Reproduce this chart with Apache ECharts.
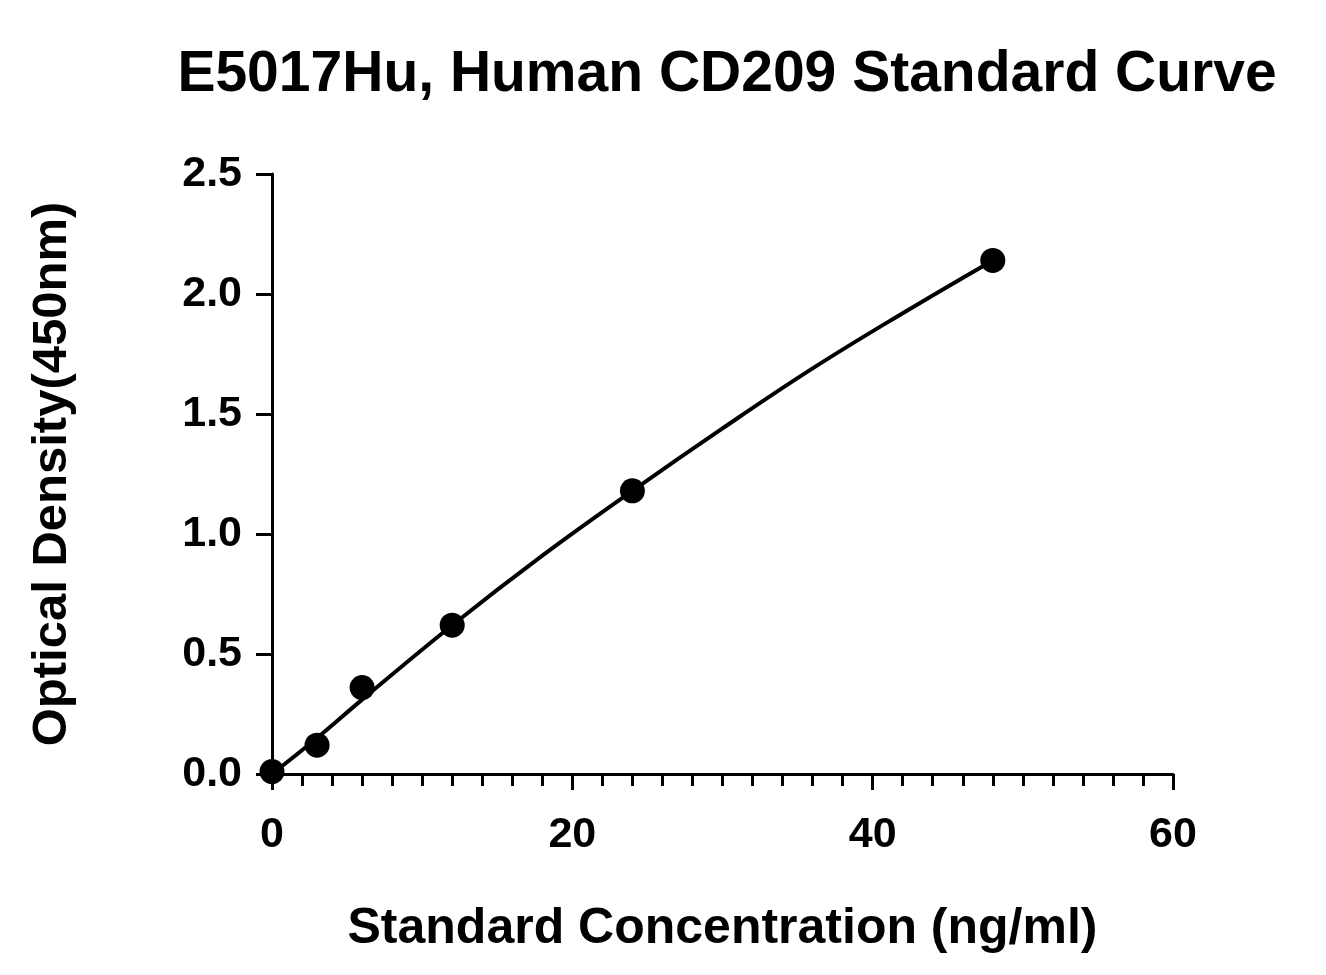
<!DOCTYPE html>
<html><head><meta charset="utf-8">
<script src="https://cdn.jsdelivr.net/npm/echarts@6/dist/echarts.min.js"></script>
<style>html,body{margin:0;padding:0;background:#fff}#c{width:1326px;height:975px}</style>
</head><body><div id="c"></div>
<script>
const titleText = 'E5017Hu, Human CD209 Standard Curve';
const xName = 'Standard Concentration (ng/ml)';
const yName = 'Optical Density(450nm)';
const concentrations = [0, 3, 6, 12, 24, 48];
const odValues = [0.01, 0.12, 0.36, 0.62, 1.18, 2.14];
const curveX = [0, 3, 6, 12, 18, 24, 30, 36, 42, 48];
const curveY = [0, 0.15, 0.31, 0.62, 0.91, 1.18, 1.44, 1.69, 1.92, 2.14];

const font = 'Arial, "Liberation Sans", sans-serif';
const chart = echarts.init(document.getElementById('c'));
chart.setOption({
  animation: false,
  title: { text: titleText, left: 722, top: 42, textAlign: 'center',
    textStyle: { fontSize: 57, fontWeight: 'bold', color: '#000', fontFamily: font } },
  grid: { left: 272, right: 153, top: 174, bottom: 201 },
  xAxis: {
    type: 'value', min: 0, max: 60, interval: 20,
    name: xName, nameLocation: 'middle', nameGap: 130,
    nameTextStyle: { fontSize: 50, fontWeight: 'bold', color: '#000', fontFamily: font },
    axisLine: { onZero: false, lineStyle: { color: '#000', width: 3 } },
    axisTick: { length: 16, lineStyle: { color: '#000', width: 3 } },
    minorTick: { show: true, splitNumber: 10, length: 12, lineStyle: { color: '#000', width: 3 } },
    axisLabel: { fontSize: 43, fontWeight: 'bold', color: '#000', margin: 40, fontFamily: font },
    splitLine: { show: false }
  },
  yAxis: {
    type: 'value', min: 0, max: 2.5, interval: 0.5,
    name: yName, nameLocation: 'middle', nameGap: 195, nameRotate: 90,
    nameTextStyle: { fontSize: 49, fontWeight: 'bold', color: '#000', fontFamily: font },
    axisLine: { show: true, onZero: false, lineStyle: { color: '#000', width: 3 } },
    axisTick: { show: true, length: 16, lineStyle: { color: '#000', width: 3 } },
    axisLabel: { fontSize: 43, fontWeight: 'bold', color: '#000', margin: 30, fontFamily: font,
      formatter: v => v.toFixed(1) },
    splitLine: { show: false }
  },
  series: [
    { type: 'line', data: curveX.map((x, i) => [x, curveY[i]]), smooth: 0.4, showSymbol: false,
      lineStyle: { color: '#000', width: 4 }, z: 2 },
    { type: 'scatter', data: concentrations.map((x, i) => [x, odValues[i]]),
      symbolSize: 25, itemStyle: { color: '#000', opacity: 1 }, z: 3 }
  ]
});
</script></body></html>
